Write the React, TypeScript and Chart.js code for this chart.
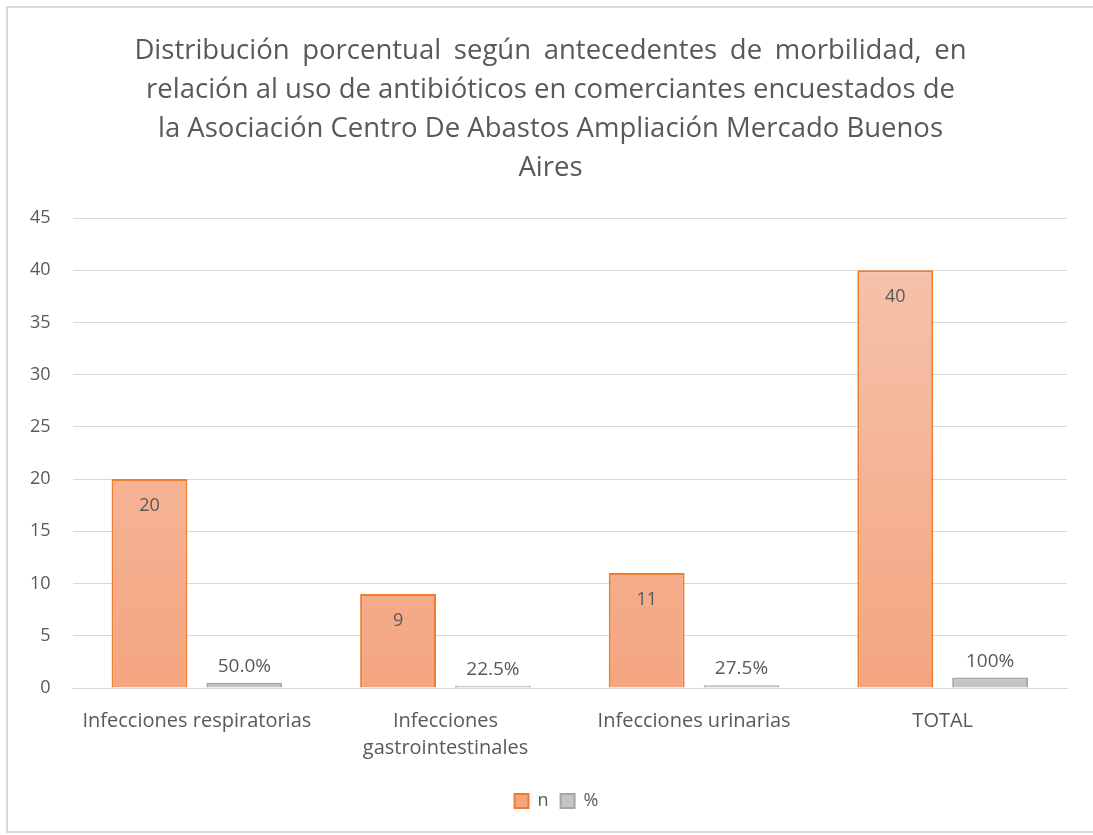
import React, { useEffect, useRef } from "react";
import { Chart, registerables } from "chart.js";

Chart.register(...registerables);

const categories: (string | string[])[] = [
  "Infecciones respiratorias",
  ["Infecciones", "gastrointestinales"],
  "Infecciones urinarias",
  "TOTAL",
];
const nValues = [20, 9, 11, 40];
const pctValues = [0.5, 0.225, 0.275, 1];
const pctLabels = ["50.0%", "22.5%", "27.5%", "100%"];
const titleLines = [
  "Distribución porcentual según antecedentes de morbilidad, en",
  "relación al uso de antibióticos en comerciantes encuestados de",
  "la Asociación Centro De Abastos Ampliación Mercado Buenos",
  "Aires",
];
const titleWordSpacing = [5.5, 0, 0, 0];

const FONT = "'Open Sans', Lato, sans-serif";
const TEXT = "#595959";
const TITLE_SIZE = 27.5;
const TITLE_LINE = 39;
const TITLE_TOP = 24;

export default function App() {
  const ref = useRef<HTMLCanvasElement | null>(null);
  useEffect(() => {
    if (!ref.current) return;
    const labelPlugin = {
      id: "valueLabels",
      afterLayout(chart: any) {
        const l = chart.legend;
        if (l) {
          l.left += 19;
          l.right += 19;
        }
      },
      afterDatasetsDraw(chart: any) {
        const ctx = chart.ctx;
        ctx.save();
        ctx.fillStyle = TEXT;
        ctx.textAlign = "center";
        ctx.font = `18px ${FONT}`;
        const m0 = chart.getDatasetMeta(0);
        m0.data.forEach((el: any, i: number) => {
          ctx.textBaseline = "middle";
          ctx.fillText(String(nValues[i]), el.x, el.y + 27);
        });
        ctx.font = `19px ${FONT}`;
        const m1 = chart.getDatasetMeta(1);
        m1.data.forEach((el: any, i: number) => {
          ctx.textBaseline = "alphabetic";
          ctx.fillText(pctLabels[i], el.x, el.y - 11);
        });
        ctx.restore();
      },
      afterDraw(chart: any) {
        const ctx = chart.ctx;
        ctx.save();
        ctx.fillStyle = TEXT;
        ctx.textAlign = "center";
        ctx.textBaseline = "middle";
        ctx.font = `${TITLE_SIZE}px ${FONT}`;
        const cx = chart.width / 2;
        titleLines.forEach((line, i) => {
          (ctx as any).wordSpacing = `${titleWordSpacing[i]}px`;
          ctx.fillText(line, cx, TITLE_TOP + TITLE_LINE * (i + 0.5));
        });
        (ctx as any).wordSpacing = "0px";
        ctx.restore();
      },
    };
    const grad = (c1: string, c2: string) => (context: any) => {
      const { chart } = context;
      const area = chart.chartArea;
      if (!area) return c2;
      const g = chart.ctx.createLinearGradient(0, area.top, 0, area.bottom);
      g.addColorStop(0, c1);
      g.addColorStop(1, c2);
      return g;
    };
    const chart = new Chart(ref.current, {
      type: "bar",
      data: {
        labels: categories,
        datasets: [
          {
            label: "n",
            data: nValues,
            backgroundColor: grad("#f6c5ae", "#f4a580"),
            borderColor: "#ed7d31",
            borderWidth: 2,
            categoryPercentage: 0.763,
            barPercentage: 0.8,
          },
          {
            label: "%",
            data: pctValues,
            backgroundColor: grad("#dcdcdc", "#c4c4c4"),
            borderColor: "#a5a5a5",
            borderWidth: 2,
            categoryPercentage: 0.763,
            barPercentage: 0.8,
          },
        ],
      },
      options: {
        animation: false,
        responsive: false,
        maintainAspectRatio: false,
        layout: {
          padding: {
            left: 0,
            right: 26,
            top: TITLE_TOP + TITLE_LINE * titleLines.length + 30,
            bottom: 11,
          },
        },
        plugins: {
          title: { display: false },
          legend: {
            position: "bottom",
            labels: {
              color: TEXT,
              font: { family: FONT, size: 18 },
              boxWidth: 14,
              boxHeight: 14,
              padding: 12,
            },
          },
          tooltip: { enabled: false },
        },
        scales: {
          x: {
            grid: { display: false },
            border: { color: "#d9d9d9", width: 1 },
            ticks: {
              color: TEXT,
              font: { family: FONT, size: 20, lineHeight: 1.35 },
              padding: 12,
              maxRotation: 0,
            },
            afterFit: (scale: any) => {
              scale.height += 6;
            },
          },
          y: {
            min: 0,
            max: 45,
            ticks: {
              stepSize: 5,
              color: TEXT,
              font: { family: FONT, size: 18 },
              padding: 22,
            },
            grid: { color: "#d9d9d9", drawTicks: false },
            border: { display: false },
          },
        },
      },
      plugins: [labelPlugin],
    });
    return () => chart.destroy();
  }, []);
  return (
    <div
      style={{
        position: "fixed",
        left: 6,
        top: 6,
        width: 1087,
        height: 827,
        borderLeft: "2px solid #d9d9d9",
        borderTop: "2px solid #d9d9d9",
        borderBottom: "2px solid #d9d9d9",
        background: "#fff",
        boxSizing: "border-box",
      }}
    >
      <canvas ref={ref} width={1085} height={823} style={{ display: "block" }} />
    </div>
  );
}
